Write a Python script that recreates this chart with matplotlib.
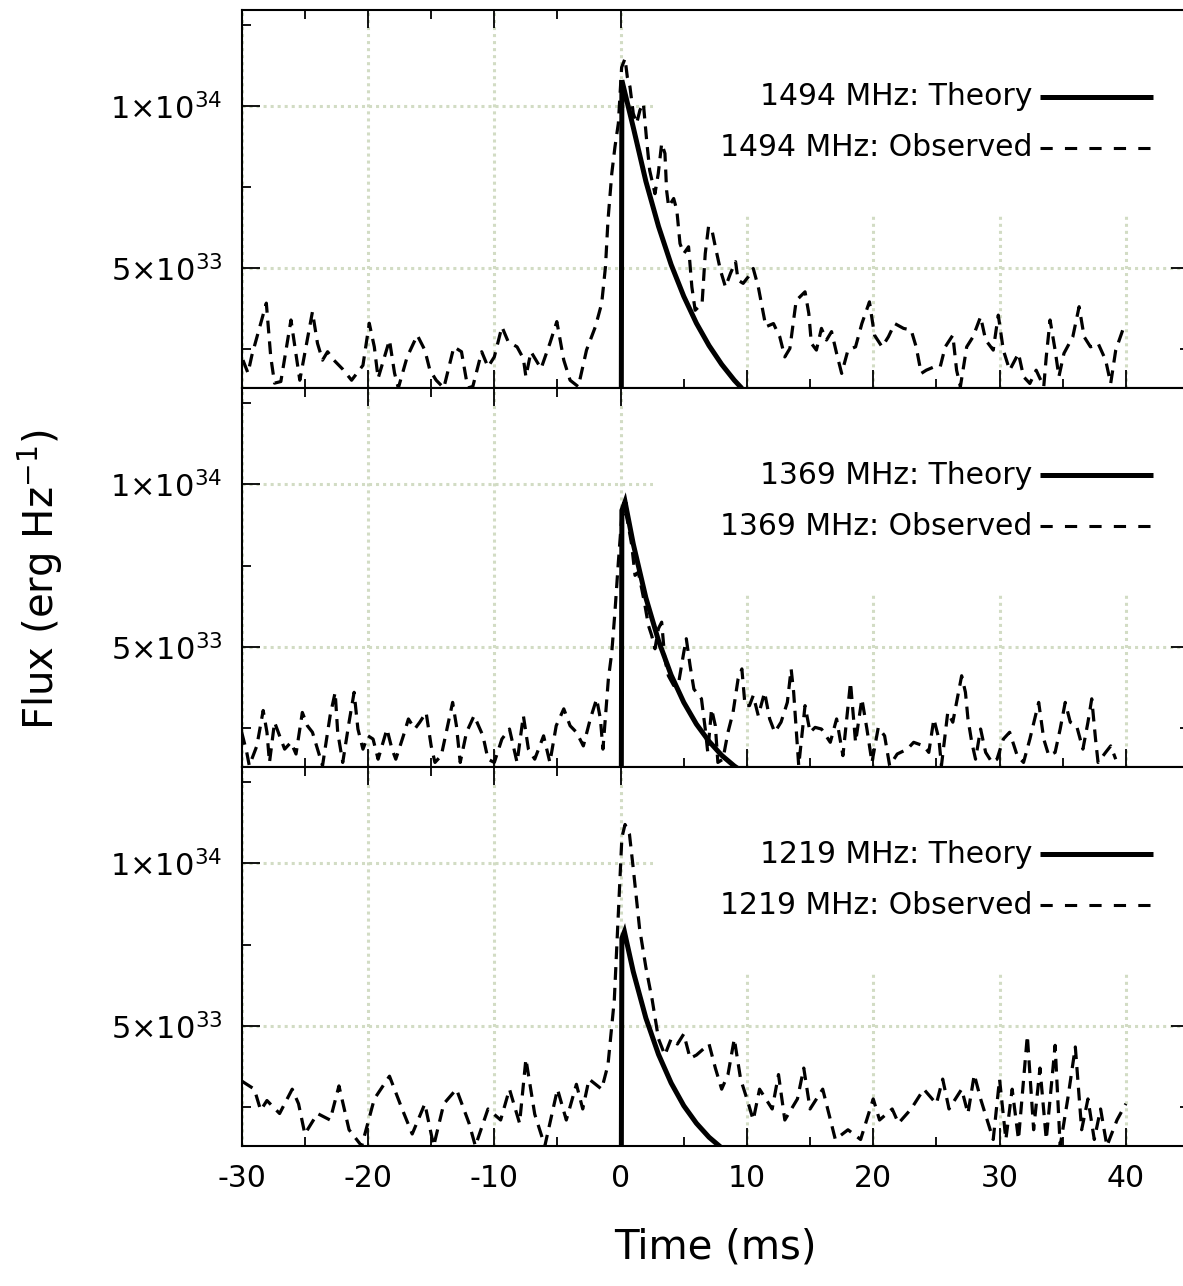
import matplotlib
matplotlib.use("Agg")
import numpy as np
import matplotlib.pyplot as plt
from matplotlib.ticker import FixedLocator, MultipleLocator, FuncFormatter
from matplotlib.patches import Rectangle

plt.rcParams["font.family"] = ["DejaVu Sans"]
plt.rcParams["mathtext.default"] = "regular"
plt.rcParams["axes.unicode_minus"] = False

UNIT = 1e33  # flux values below are in units of 1e33 erg/Hz

bands = ["1494 MHz", "1369 MHz", "1219 MHz"]

# ---- 1494 MHz ----
t_obs_1494 = [-29.9, -29.5, -29.2, -28.05, -27.7, -27.4, -26.9, -26.1, -25.4, -24.4, -24.0, -23.6,
              -23.2, -22.7, -22.0, -21.3, -20.4, -19.9, -19.5, -19.2, -18.3, -17.9, -17.6, -16.9,
              -16.1, -15.5, -15.1, -14.6, -14.0, -13.2, -12.6, -12.1, -11.7, -11.0, -10.5, -10.0,
              -9.4, -8.9, -8.2, -7.7, -7.5, -7.1, -6.7, -6.3, -5.6, -5.05, -4.5, -4.0, -3.35,
              -2.7, -2.0, -1.5, -1.2, -1.0, -0.7, -0.45, -0.18, 0.08, 0.35, 0.53, 0.74, 1.0,
              1.27, 1.53, 1.8, 2.06, 2.3, 2.72, 2.98, 3.25, 3.51, 3.64, 3.8, 4.2, 4.45, 4.7, 5.0,
              5.38, 5.64, 5.9, 6.45, 6.7, 6.96, 7.2, 7.5, 7.9, 8.3, 8.7, 9.1, 9.3, 9.7, 10.1,
              10.5, 10.9, 11.2, 11.5, 12.1, 12.6, 13.0, 13.4, 13.9, 14.6, 14.9, 15.1, 15.5, 15.9,
              16.3, 16.7, 17.1, 17.5, 18.0, 18.6, 19.1, 19.7, 20.1, 20.7, 21.2, 21.7, 22.4, 23.0,
              23.4, 23.8, 24.2, 24.8, 25.3, 25.7, 26.3, 26.6, 26.9, 27.4, 27.9, 28.5, 28.9, 29.5,
              29.9, 30.3, 30.8, 31.5, 31.9, 32.4, 32.9, 33.5, 33.7, 34.0, 34.4, 34.7, 35.1, 35.8,
              36.3, 36.7, 37.2, 37.8, 38.4, 38.8, 39.2, 39.8]
f_obs_1494 = [2.16, 1.76, 2.3, 3.92, 2.26, 1.45, 1.5, 3.4, 1.54, 3.65, 2.68, 2.16,
              2.42, 2.16, 1.88, 1.54, 2.0, 3.3, 2.57, 1.6, 2.78, 1.76, 1.3, 2.26,
              2.93, 2.47, 1.85, 1.54, 1.3, 2.57, 2.42, 1.3, 1.35, 2.42, 1.95, 2.26,
              3.19, 2.73, 2.57, 2.21, 1.65, 2.42, 2.16, 1.9, 2.68, 3.35, 2.16, 1.54, 1.34,
              2.47, 3.19, 3.91, 5.04, 6.48, 7.92, 8.74, 9.47, 11.2, 11.47, 10.9, 10.6, 9.78,
              9.47, 9.88, 10.09, 8.95, 8.02, 7.3, 7.92, 8.85, 8.54, 7.4, 6.9, 7.15, 6.79, 5.76, 5.45,
              5.66, 4.42, 3.7, 3.91, 5.45, 6.28, 6.23, 5.66, 4.94, 4.42, 4.84, 5.2, 4.63, 4.53, 4.73,
              4.99, 4.42, 3.81, 3.19, 3.29, 2.88, 2.26, 2.52, 4.0, 4.27, 3.6, 2.68, 2.47, 3.14,
              2.78, 3.04, 2.37, 1.75, 2.47, 2.57, 3.29, 3.96, 2.93, 2.57, 2.88, 3.29, 3.14, 3.09,
              2.57, 1.75, 1.85, 1.95, 1.95, 2.57, 2.93, 1.85, 1.34, 2.57, 2.88, 3.5, 2.78, 2.47,
              3.55, 2.47, 1.85, 2.37, 1.65, 1.44, 1.85, 1.34, 2.27, 3.4, 2.47, 1.65, 2.37, 2.88,
              3.81, 2.88, 2.57, 2.68, 2.16, 1.44, 2.47, 3.14]
t_th_1494 = [0.05, 0.1, 1, 2, 3, 4, 5, 6, 7, 8, 9, 9.6]
f_th_1494 = [0.0, 10.8, 9.35, 7.68, 6.29, 5.11, 4.13, 3.30, 2.61, 2.03, 1.54, 1.29]

# ---- 1369 MHz ----
t_obs_1369 = [-30.0, -29.6, -29.4, -28.8, -28.3, -28.0, -27.8, -27.4, -27.0, -26.6, -26.1, -25.7,
              -25.2, -24.8, -24.4, -24.0, -23.6, -23.0, -22.6, -22.4, -22.0, -21.5, -21.1, -20.8,
              -20.4, -20.0, -19.6, -19.2, -18.5, -18.1, -17.8, -17.2, -16.8, -16.3, -15.9, -15.4,
              -15.0, -14.7, -14.2, -13.7, -13.3, -13.0, -12.7, -12.2, -11.6, -10.9, -10.5, -10.0,
              -9.4, -8.8, -8.2, -7.7, -7.3, -6.8, -6.1, -5.6, -5.1, -4.5, -4.0, -3.5, -2.95, -2.4,
              -1.9, -1.6, -1.4, -0.97, -0.7, -0.45, -0.18, 0.08, 0.35, 0.61, 0.88, 1.14, 1.4, 1.67,
              1.93, 2.2, 2.46, 2.72, 2.99, 3.25, 3.5, 3.78, 4.2, 4.6, 5.0, 5.2, 5.5, 5.8, 6.2, 6.4,
              6.7, 6.9, 7.2, 7.5, 7.7, 8.1, 8.5, 8.9, 9.3, 9.6, 9.85, 10.2, 10.5, 10.9, 11.4, 11.8,
              12.2, 12.7, 13.2, 13.5, 13.7, 14.1, 14.6, 15.0, 15.4, 15.9, 16.6, 17.1, 17.6, 18.2,
              18.6, 19.1, 19.5, 19.9, 20.4, 20.9, 21.3, 21.9, 22.7, 23.2, 24.0, 24.4, 24.8, 25.2,
              25.4, 25.9, 26.3, 26.7, 27.0, 27.3, 27.5, 27.8, 28.1, 28.5, 28.9, 29.4, 29.8, 30.3,
              30.8, 31.4, 31.9, 32.4, 33.1, 33.5, 33.9, 34.4, 34.8, 35.2, 35.6, 36.1, 36.6, 37.0,
              37.3, 37.6, 37.8, 38.4, 38.8, 39.2]
f_obs_1369 = [2.37, 1.75, 1.34, 1.95, 3.04, 2.37, 1.44, 2.68, 2.26, 1.85, 2.06, 1.70,
              2.98, 2.57, 2.37, 1.85, 1.34, 2.88, 3.6, 2.37, 1.44, 2.68, 3.6, 2.47,
              1.85, 2.26, 2.16, 1.54, 2.47, 1.85, 1.54, 2.26, 2.78, 2.47, 2.68, 2.98,
              1.95, 1.44, 1.65, 2.57, 3.29, 2.57, 1.44, 2.37, 2.88, 2.26, 1.54, 1.44,
              2.16, 2.47, 1.44, 2.88, 1.85, 1.54, 2.26, 1.44, 2.57, 3.09, 2.57, 2.37, 1.95, 2.78,
              3.4, 2.78, 1.85, 4.01, 4.83, 6.07, 7.61, 8.95, 9.26, 8.74, 8.13, 7.2, 7.3, 6.79,
              6.27, 5.66, 5.35, 4.94, 5.56, 5.76, 4.63, 4.11, 3.81, 3.91, 4.83, 5.25, 4.42, 3.7, 3.5, 3.4,
              2.47, 1.75, 3.09, 2.57, 1.44, 1.54, 2.37, 2.98, 4.01, 4.32, 3.19, 3.19, 3.5, 2.88, 3.6, 2.78,
              2.37, 2.68, 3.29, 4.32, 3.6, 1.34, 3.19, 2.37, 2.52, 2.47, 2.06, 2.78, 1.65, 3.91,
              2.06, 3.4, 2.47, 1.44, 2.52, 2.26, 1.34, 1.70, 1.85, 2.06, 1.95, 1.75, 2.78, 2.16,
              1.34, 2.98, 2.68, 3.5, 4.11, 3.6, 2.78, 2.06, 1.54, 2.47, 1.75, 1.44, 1.54, 2.16,
              2.37, 1.65, 1.44, 2.16, 3.29, 2.16, 1.65, 1.75, 2.47, 3.29, 2.68, 2.57, 1.85, 2.68,
              3.4, 2.16, 1.44, 1.75, 1.95, 1.54]
t_th_1369 = [0.05, 0.1, 0.35, 1, 2, 3, 4, 5, 6, 7, 8, 9, 9.3]
f_th_1369 = [0.0, 9.2, 9.47, 8.17, 6.51, 5.19, 4.13, 3.29, 2.62, 2.09, 1.66, 1.33, 1.25]

# ---- 1219 MHz ----
t_obs_1219 = [-30.0, -29.0, -28.5, -28.0, -27.0, -26.0, -25.5, -25.0, -24.0, -23.0, -22.3, -21.5,
              -20.5, -19.5, -18.3, -17.3, -16.5, -15.5, -14.8, -14.0, -13.0, -12.0, -11.5, -10.5,
              -9.5, -8.8, -8.0, -7.5, -6.8, -6.0, -5.0, -4.3, -3.5, -3.0, -2.5, -1.5, -1.0, -0.5,
              -0.2, 0.1, 0.35, 0.7, 1.0, 1.5, 2.0, 2.5, 3.0, 3.5, 4.0, 4.5, 5.0, 5.5, 6.0, 7.0,
              7.5, 8.0, 8.5, 9.0, 9.5, 10.0, 10.5, 11.0, 12.0, 12.5, 13.0, 14.0, 14.5, 15.0, 16.0,
              17.0, 18.0, 19.0, 20.0, 20.5, 21.5, 22.0, 23.0, 24.0, 25.0, 25.5, 26.0, 27.0, 27.5,
              28.0, 28.5, 29.5, 30.0, 30.5, 31.0, 31.5, 32.2, 32.7, 33.2, 33.7, 34.4, 34.8, 35.4,
              36.0, 36.5, 37.0, 37.5, 38.0, 38.5, 39.3, 40.0]
f_obs_1219 = [3.3, 3.05, 2.4, 2.7, 2.3, 3.05, 2.6, 1.67, 2.3, 2.1, 3.15, 1.8,
              1.3, 2.75, 3.45, 2.44, 1.67, 2.6, 1.3, 2.6, 3.05, 2.0, 1.3, 2.44,
              2.1, 3.05, 2.0, 3.98, 2.28, 1.3, 3.05, 2.1, 3.2, 2.44, 3.36, 3.05, 3.8, 5.8,
              8.3, 10.8, 11.2, 10.9, 9.85, 8.0, 6.8, 5.8, 4.6, 4.1, 4.6, 4.44, 4.75, 4.0, 4.1, 4.44,
              3.7, 3.05, 3.5, 4.6, 3.36, 2.75, 2.1, 3.05, 2.44, 3.5, 2.1, 2.75, 3.7, 2.44, 3.05,
              1.5, 1.8, 1.5, 2.75, 2.1, 2.44, 2.0, 2.44, 3.05, 2.6, 3.36, 2.44, 3.05, 2.3,
              3.5, 2.75, 1.5, 3.36, 1.5, 3.05, 1.5, 4.7, 1.8, 3.7, 1.5, 4.4, 1.3, 2.75,
              4.35, 1.8, 2.75, 1.5, 2.44, 1.3, 2.1, 2.6]
t_th_1219 = [0.05, 0.1, 0.3, 1, 2, 3, 4, 5, 6, 7, 8]
f_th_1219 = [0.0, 7.7, 7.9, 6.67, 5.24, 4.12, 3.24, 2.54, 2.0, 1.57, 1.24]

observed = [(t_obs_1494, f_obs_1494), (t_obs_1369, f_obs_1369), (t_obs_1219, f_obs_1219)]
theory = [(t_th_1494, f_th_1494), (t_th_1369, f_th_1369), (t_th_1219, f_th_1219)]

W, H = 1183, 1286
fig = plt.figure(figsize=(W / 100, H / 100), dpi=100)

x0_px, x1_px = 241.7, 1189.0
edges_px = [10, 388, 767, 1146]
grid_color = "#d2dcc4"


def sci_label(v, pos):
    exp = int(np.floor(np.log10(v)))
    mant = v / 10 ** exp
    return "%d×10$^{%d}$" % (round(mant), exp)


for i in range(3):
    top, bot = edges_px[i], edges_px[i + 1]
    ax = fig.add_axes([x0_px / W, 1 - bot / H, (x1_px - x0_px) / W, (bot - top) / H])
    ax.set_xlim(-30, 45)
    ax.set_ylim(1.3 * UNIT, 12.97 * UNIT)

    ax.set_axisbelow(True)
    ax.grid(True, which="major", color=grid_color, linestyle=(0, (1.0, 1.3)), linewidth=2.2)

    # opaque key area
    ax.add_patch(Rectangle((0.434, 0.458), 0.566, 0.542, transform=ax.transAxes,
                           facecolor="white", edgecolor="none", zorder=1))

    t_o, f_o = observed[i]
    ax.plot(t_o, np.array(f_o) * UNIT, color="black", lw=2.3, dashes=(4, 2.5), zorder=3)
    t_t, f_t = theory[i]
    ax.plot(t_t, np.array(f_t) * UNIT, color="black", lw=3.6, zorder=4,
            solid_joinstyle="miter", solid_capstyle="butt")

    ax.xaxis.set_major_locator(MultipleLocator(10))
    ax.xaxis.set_minor_locator(MultipleLocator(5))
    ax.yaxis.set_major_locator(FixedLocator([5 * UNIT, 10 * UNIT]))
    ax.yaxis.set_minor_locator(FixedLocator([2.5 * UNIT, 7.5 * UNIT, 12.5 * UNIT]))
    ax.yaxis.set_major_formatter(FuncFormatter(sci_label))

    ax.tick_params(which="both", direction="in", top=True, right=True, width=1.3, colors="black")
    ax.tick_params(which="major", length=13)
    ax.tick_params(which="minor", length=6.5)
    ax.tick_params(axis="y", labelsize=22, pad=14)
    ax.tick_params(axis="x", labelsize=21.5, pad=13)
    if i < 2:
        ax.tick_params(axis="x", labelbottom=False)
    for sp in ax.spines.values():
        sp.set_linewidth(1.5)

    # key
    ax.text(0.835, 0.770, "%s: Theory" % bands[i], transform=ax.transAxes, ha="right",
            va="center", fontsize=21.5, zorder=5)
    ax.plot([0.843, 0.962], [0.770, 0.770], transform=ax.transAxes, color="black", lw=3.6,
            zorder=5, solid_capstyle="butt")
    ax.text(0.835, 0.635, "%s: Observed" % bands[i], transform=ax.transAxes, ha="right",
            va="center", fontsize=21.5, zorder=5)
    ax.plot([0.843, 0.962], [0.635, 0.635], transform=ax.transAxes, color="black", lw=2.2,
            dashes=(4, 4), zorder=5)

fig.text(715 / W, 1 - 1248 / H, "Time (ms)", ha="center", va="center", fontsize=29)
fig.text(40 / W, 1 - 580 / H, "Flux (erg Hz$^{-1}$)", ha="center", va="center",
         rotation=90, fontsize=29)

fig.savefig("out.png", dpi=100)
